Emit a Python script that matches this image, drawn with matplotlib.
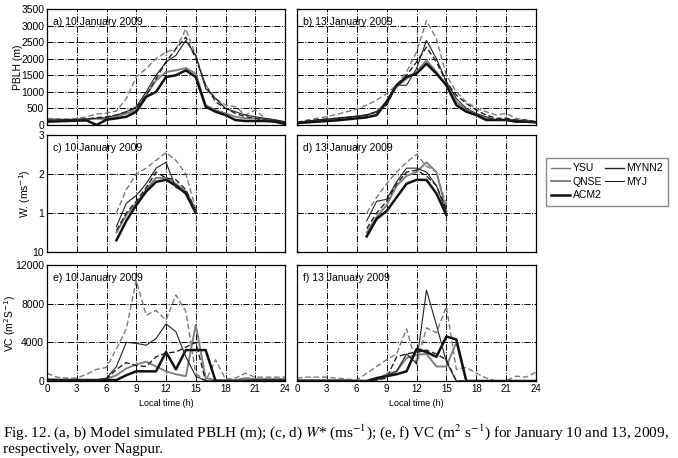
import matplotlib
matplotlib.use('Agg')
import matplotlib.pyplot as plt
from matplotlib.lines import Line2D
import numpy as np

plt.rcParams['font.family'] = ['Liberation Sans', 'DejaVu Sans']

hours = np.arange(0, 25)
hours_w = np.arange(7, 16)
models = ['YSU', 'QNSE', 'ACM2', 'MYNN2', 'MYJ']

# PBLH (m), 10 January
pblh_10 = {
    'YSU':   [200, 190, 180, 190, 250, 330, 360, 420, 800, 1450, 1700, 2000, 2200, 2300, 2900, 2100, 1200, 800, 600, 550, 300, 450, 200, 150, 80],
    'QNSE':  [180, 170, 160, 170, 180, 190, 180, 250, 350, 450, 900, 1350, 1600, 1650, 1720, 1550, 600, 450, 350, 250, 200, 200, 180, 150, 80],
    'ACM2':  [100, 110, 120, 130, 140, 0, 160, 200, 250, 400, 850, 1000, 1450, 1500, 1650, 1450, 550, 400, 300, 150, 120, 120, 120, 100, 30],
    'MYNN2': [130, 140, 150, 160, 180, 220, 250, 300, 400, 520, 900, 1400, 1900, 2300, 2650, 2000, 1200, 700, 500, 350, 250, 200, 150, 120, 80],
    'MYJ':   [150, 150, 160, 170, 180, 200, 220, 300, 400, 550, 1000, 1500, 1900, 2100, 2550, 2100, 1100, 800, 500, 400, 300, 250, 200, 150, 100],
}
# PBLH (m), 13 January
pblh_13 = {
    'YSU':   [80, 150, 200, 250, 320, 400, 480, 600, 750, 950, 1200, 1600, 2200, 3150, 2600, 1500, 1000, 700, 500, 400, 300, 350, 200, 150, 100],
    'QNSE':  [60, 100, 140, 170, 200, 230, 260, 300, 400, 700, 1150, 1400, 1600, 1950, 1600, 1200, 700, 450, 300, 200, 150, 150, 120, 100, 80],
    'ACM2':  [60, 80, 100, 120, 140, 170, 200, 230, 300, 700, 1200, 1450, 1550, 1850, 1550, 1200, 600, 400, 300, 150, 150, 150, 100, 100, 80],
    'MYNN2': [80, 120, 150, 180, 200, 230, 260, 300, 400, 600, 1200, 1500, 1900, 2350, 1900, 1300, 900, 650, 450, 300, 200, 200, 150, 150, 100],
    'MYJ':   [80, 120, 150, 180, 200, 230, 260, 300, 400, 600, 1200, 1200, 1700, 2550, 2000, 1300, 800, 500, 350, 250, 150, 150, 150, 100, 80],
}
# W* (m/s), 07-15 h
w_10 = {
    'YSU':   [1.0, 1.6, 2.0, 2.15, 2.35, 2.55, 2.35, 2.0, 1.1],
    'QNSE':  [0.5, 0.95, 1.25, 1.6, 1.9, 1.9, 1.75, 1.55, 1.1],
    'ACM2':  [0.3, 0.8, 1.2, 1.55, 1.8, 1.85, 1.7, 1.5, 1.0],
    'MYNN2': [0.55, 1.0, 1.3, 1.65, 2.05, 1.9, 1.85, 1.6, 1.05],
    'MYJ':   [0.65, 1.25, 1.45, 1.75, 2.15, 2.3, 1.65, 1.55, 1.0],
}
w_13 = {
    'YSU':   [1.0, 1.4, 1.75, 2.05, 2.3, 2.5, 2.2, 2.05, 1.2],
    'QNSE':  [0.5, 0.9, 1.2, 1.7, 1.95, 2.05, 2.3, 2.05, 1.05],
    'ACM2':  [0.4, 0.85, 1.05, 1.4, 1.75, 1.85, 1.85, 1.5, 0.95],
    'MYNN2': [0.6, 1.0, 1.3, 1.75, 2.05, 2.1, 1.95, 1.7, 1.1],
    'MYJ':   [0.8, 1.3, 1.35, 1.8, 2.15, 2.15, 2.05, 1.7, 1.0],
}
# VC (m2/s)
vc_10 = {
    'YSU':   [800, 400, 300, 300, 700, 1200, 1400, 3300, 5400, 10400, 6800, 7300, 6300, 8900, 7200, 800, 0, 2200, 200, 300, 800, 400, 400, 400, 400],
    'QNSE':  [200, 150, 100, 100, 100, 100, 200, 600, 1300, 1700, 2000, 1500, 1000, 700, 500, 5800, 300, 100, 100, 100, 300, 200, 200, 200, 200],
    'ACM2':  [100, 100, 100, 100, 100, 100, 100, 100, 600, 1000, 1000, 1000, 3000, 1200, 3200, 3200, 3200, 0, 0, 0, 0, 0, 0, 0, 0],
    'MYNN2': [100, 100, 100, 100, 100, 100, 200, 1200, 1900, 1600, 1500, 2500, 2900, 3000, 3500, 4000, 0, 0, 0, 0, 0, 100, 100, 100, 100],
    'MYJ':   [100, 100, 100, 100, 100, 100, 300, 1500, 4000, 3900, 3700, 4400, 5900, 5100, 2500, 500, 0, 0, 0, 0, 100, 100, 100, 100, 100],
}
vc_13 = {
    'YSU':   [300, 400, 400, 400, 300, 200, 100, 800, 1500, 2200, 2800, 5400, 1700, 5500, 5000, 7700, 1200, 1400, 800, 300, 0, 0, 500, 400, 900],
    'QNSE':  [100, 100, 100, 100, 100, 100, 0, 0, 200, 700, 1000, 2400, 2700, 2800, 1500, 1500, 4000, 0, 0, 0, 0, 0, 0, 0, 0],
    'ACM2':  [0, 0, 0, 0, 0, 0, 0, 0, 300, 500, 700, 1000, 3300, 3000, 2500, 4600, 4300, 0, 0, 0, 0, 0, 0, 0, 0],
    'MYNN2': [0, 0, 0, 0, 0, 0, 0, 0, 100, 300, 2500, 2800, 3000, 3200, 2800, 2200, 0, 0, 0, 0, 0, 0, 0, 0, 0],
    'MYJ':   [0, 0, 0, 0, 0, 0, 0, 0, 100, 500, 1000, 2800, 1800, 9400, 5800, 2000, 0, 0, 0, 0, 0, 0, 0, 0, 0],
}

styles = {
    'YSU':   dict(color='#7a7a7a', lw=1.0, ls=(0, (4, 2))),
    'QNSE':  dict(color='#808080', lw=1.4, ls='-'),
    'ACM2':  dict(color='#111111', lw=1.8, ls='-'),
    'MYNN2': dict(color='#222222', lw=1.0, ls=(0, (4, 2))),
    'MYJ':   dict(color='#222222', lw=0.8, ls='-'),
}

fig = plt.figure(figsize=(6.78, 4.58), dpi=100)
W, H = 678, 458

def px_axes(x0, y0, x1, y1):
    return fig.add_axes([x0 / W, 1 - y1 / H, (x1 - x0) / W, (y1 - y0) / H])

cols = [(47, 285), (297, 536)]
rows = [(9, 125), (135, 252), (265, 381)]

panels = [
    [(pblh_10, 'a) 10 January 2009'), (pblh_13, 'b) 13 January 2009')],
    [(w_10, 'c) 10 January 2009'), (w_13, 'd) 13 January 2009')],
    [(vc_10, 'e) 10 January 2009'), (vc_13, 'f) 13 January 2009')],
]
ylabels = ['PBLH (m)', 'W. (ms$^{-1}$)', 'VC (m$^2$S$^{-1}$)']
ylabel_x = [-0.10, -0.06, -0.12]

for r, (y0, y1) in enumerate(rows):
    for c, (x0, x1) in enumerate(cols):
        ax = px_axes(x0, y0, x1, y1)
        data, label = panels[r][c]
        xs = hours_w if r == 1 else hours
        for m in models:
            ax.plot(xs, data[m], **styles[m])
        ax.set_xlim(0, 24)
        ax.set_xticks(range(0, 25, 3))
        if r == 0:
            ax.set_ylim(0, 3500)
            ax.set_yticks(range(0, 3501, 500))
        elif r == 1:
            ax.set_ylim(0, 3)
            ax.set_yticks([0, 1, 2, 3])
            ax.set_yticklabels(['10', '1', '2', '3'])
        else:
            ax.set_ylim(0, 12000)
            ax.set_yticks([0, 4000, 8000, 12000])
        ax.grid(True, color='black', ls='-.', lw=0.7)
        ax.tick_params(direction='in', length=2, labelsize=7.5, pad=2)
        ax.tick_params(axis='x', labelsize=7)
        if r < 2:
            ax.tick_params(labelbottom=False)
        else:
            ax.set_xlabel('Local time (h)', fontsize=6.5, labelpad=4)
        if c == 1:
            ax.tick_params(labelleft=False)
        for s in ax.spines.values():
            s.set_linewidth(0.9)
        ax.text(0.025, 0.93, label, transform=ax.transAxes, fontsize=7.5,
                va='top', ha='left')
        if c == 0:
            ax.set_ylabel(ylabels[r], fontsize=7.5)
            ax.yaxis.set_label_coords(ylabel_x[r], 0.5)

handles = [Line2D([], [], color=styles[m]['color'], lw=styles[m]['lw']) for m in models]
fig.legend(handles, models, ncol=2, loc='upper left',
           bbox_to_anchor=(546 / W, 1 - 158 / H), fontsize=7.5,
           fancybox=False, edgecolor='#888888', handlelength=1.8,
           columnspacing=0.3, handletextpad=0.25, labelspacing=0.35,
           borderpad=0.5, borderaxespad=0, framealpha=1)

fig.text(3 / W, 1 - 432 / H,
         'Fig. 12. (a, b) Model simulated PBLH (m); (c, d) $W$* (ms$^{-1}$); '
         '(e, f) VC (m$^2$ s$^{-1}$) for January 10 and 13, 2009,',
         family='Liberation Serif', math_fontfamily='stix', fontsize=11,
         va='center', ha='left')
fig.text(3 / W, 1 - 450 / H, 'respectively, over Nagpur.',
         family='Liberation Serif', fontsize=11, va='center', ha='left')

fig.savefig('out.png', dpi=100)
